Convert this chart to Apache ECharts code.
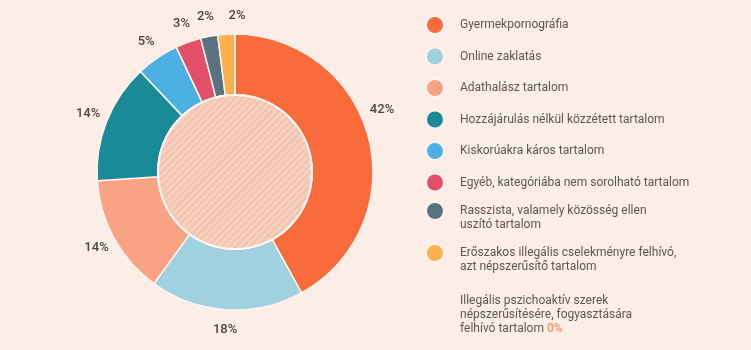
<!DOCTYPE html>
<html><head><meta charset="utf-8">
<script src="https://cdn.jsdelivr.net/npm/echarts@6/dist/echarts.min.js"></script>
<style>html,body{margin:0;padding:0;background:#FCEEE6;}#c{width:751px;height:350px;}</style>
</head><body><div id="c"></div>
<script>
const categories = [
  'Gyermekpornográfia',
  'Online zaklatás',
  'Adathalász tartalom',
  'Hozzájárulás nélkül közzétett tartalom',
  'Kiskorúakra káros tartalom',
  'Egyéb, kategóriába nem sorolható tartalom',
  'Rasszista, valamely közösség ellen\nuszító tartalom',
  'Erőszakos illegális cselekményre felhívó,\nazt népszerűsítő tartalom',
  'Illegális pszichoaktív szerek\nnépszerűsítésére, fogyasztására\nfelhívó tartalom'
];
const values = [42, 18, 14, 14, 5, 3, 2, 2, 0];
const colors = ['#FA6B3C', '#9FD1DE', '#F9A384', '#1A8A99', '#4DB0E2', '#E34E68', '#5A7280', '#FDB14E', '#FA6B3C'];

const chart = echarts.init(document.getElementById('c'));
const font = 'Roboto, "Noto Sans", sans-serif';
const txt = { fontFamily: font, fontSize: 12, color: '#5b5652', lineHeight: 14 };
const legendBase = {
  orient: 'vertical', left: 420, icon: 'circle', itemWidth: 40, itemHeight: 18,
  selectedMode: false, textStyle: txt
};
const center = [235, 172];
const labelOffsets = { 0: [-6, -23], 7: [12, 1] };

chart.setOption({
  backgroundColor: '#FCEEE6',
  color: colors,
  legend: [
    Object.assign({}, legendBase, { top: 10, itemGap: 11.5, data: categories.slice(0, 6) }),
    Object.assign({}, legendBase, { top: 185, data: [categories[6]], formatter: n => '\n' + n }),
    Object.assign({}, legendBase, { top: 227, data: [categories[7]], formatter: n => '\n' + n }),
    Object.assign({}, legendBase, {
      top: 289, left: 410, data: [{ name: categories[8], icon: 'none' }],
      formatter: n => n + ' {o|' + values[8] + '%}',
      textStyle: Object.assign({}, txt, {
        rich: { o: { fontFamily: font, fontSize: 12, color: '#F59B6E', fontWeight: 'bold', lineHeight: 14 } } })
    })
  ],
  series: [
    {
      type: 'pie', radius: [77, 138], center: center, startAngle: 90, clockwise: true,
      avoidLabelOverlap: false,
      itemStyle: { borderColor: '#FDF3EE', borderWidth: 1.5 },
      label: { show: false }, labelLine: { show: false },
      data: categories.map((c, i) => ({ name: c, value: values[i] }))
    },
    {
      type: 'pie', silent: true, radius: [0, 77], center: center,
      label: { show: false }, labelLine: { show: false },
      itemStyle: { color: '#F6D0BF', borderColor: '#FFF6F1', borderWidth: 2,
        decal: { symbol: 'rect', symbolSize: 1, dashArrayX: [1, 0], dashArrayY: [2, 3], rotation: -Math.PI / 4, color: 'rgba(236,150,118,0.25)' } },
      data: [{ name: '_inner', value: 1 }]
    },
    {
      type: 'pie', silent: true, radius: [140, 170], center: center, startAngle: 90, clockwise: true,
      avoidLabelOverlap: false,
      itemStyle: { color: 'rgba(0,0,0,0)', borderWidth: 0 },
      label: {
        show: true, position: 'inside', fontFamily: font, fontSize: 13, fontWeight: 500, color: '#4a4542',
        formatter: p => p.value ? p.value + '%' : ''
      },
      labelLine: { show: false },
      data: categories.map((c, i) => ({
        name: c, value: values[i],
        label: labelOffsets[i] ? { offset: labelOffsets[i] } : undefined
      }))
    }
  ]
});
</script></body></html>
